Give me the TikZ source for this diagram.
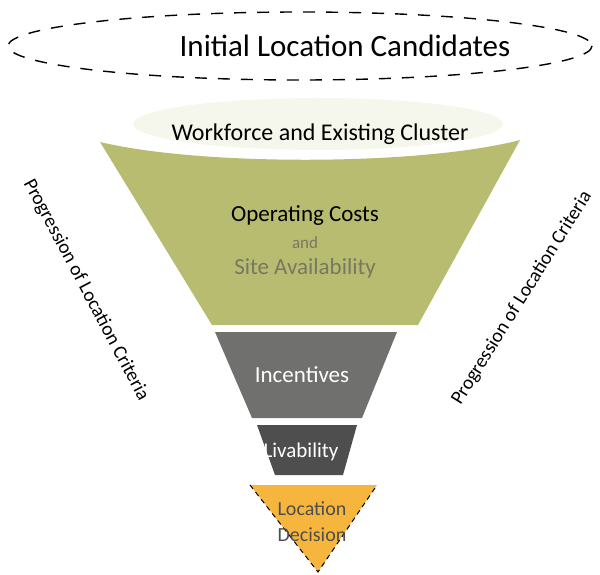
\documentclass[tikz,border=0pt]{standalone}
\usepackage{fontspec}
\setmainfont{Carlito}
\usepackage{xcolor}

\definecolor{funnelgreen}{RGB}{184,188,112}
\definecolor{funnelpale}{RGB}{246,247,236}
\definecolor{funnelgray}{RGB}{112,112,110}
\definecolor{funneldark}{RGB}{78,78,78}
\definecolor{funnelorange}{RGB}{246,182,62}
\definecolor{softtext}{RGB}{120,120,96}

\begin{document}
\begin{tikzpicture}[x=1pt, y=-1pt,
      every node/.style = {align=center, inner sep=0pt},
      stagetext/.style = {font=\fontsize{23}{27}\selectfont, text=black},
      lighttext/.style = {font=\fontsize{23}{27}\selectfont, text=white},
      sidetext/.style = {font=\fontsize{19.5}{23}\selectfont, text=black}]
    \useasboundingbox (0,0) rectangle (600,575);

    % candidates
    \draw[line width=1.4pt, dash pattern=on 12pt off 11pt] (300,46) ellipse [x radius=292, y radius=34];
    \node[font=\fontsize{31}{35}\selectfont] (candidates) at (345,46) {Initial Location Candidates};

    % funnel layers
    \fill[funnelpale] (318,124) ellipse [x radius=185, y radius=26];
    \fill[funnelgreen] (100,142) .. controls (200,166) and (420,166) .. (520,140)
      -- (418,325) -- (212,325) -- cycle;
    \fill[funnelgray] (215,332) -- (397,332) -- (362,418) -- (252,418) -- cycle;
    \fill[funneldark] (257,425) -- (357,425) -- (343,475) -- (275,475) -- cycle;
    \fill[funnelorange] (250,485) -- (377,485) -- (318,572) -- cycle;
    \draw[line width=1pt, dash pattern=on 5pt off 4pt] (250,485) -- (318,572) -- (377,485);

    \node[stagetext, font=\fontsize{24}{28}\selectfont] (workforce) at (320,134) {Workforce and Existing Cluster};
    \node[stagetext] (costs) at (305,216) {Operating Costs};
    \node[font=\fontsize{17}{20}\selectfont, text=softtext] (and) at (305,243) {and};
    \node[font=\fontsize{23}{27}\selectfont, text=softtext] (site) at (305,268) {Site Availability};
    \node[lighttext] (incentives) at (302,375) {Incentives};
    \node[lighttext, font=\fontsize{21}{25}\selectfont] (livability) at (301,452) {Livability};
    \node[font=\fontsize{20}{26}\selectfont, text=funneldark] (decision) at (312,522) {Location\\Decision};

    % sides
    \node[sidetext, rotate=-62] (leftside) at (86,290) {Progression of Location Criteria};
    \node[sidetext, rotate=58] (rightside) at (522,298) {Progression of Location Criteria};
  \end{tikzpicture}
\end{document}
